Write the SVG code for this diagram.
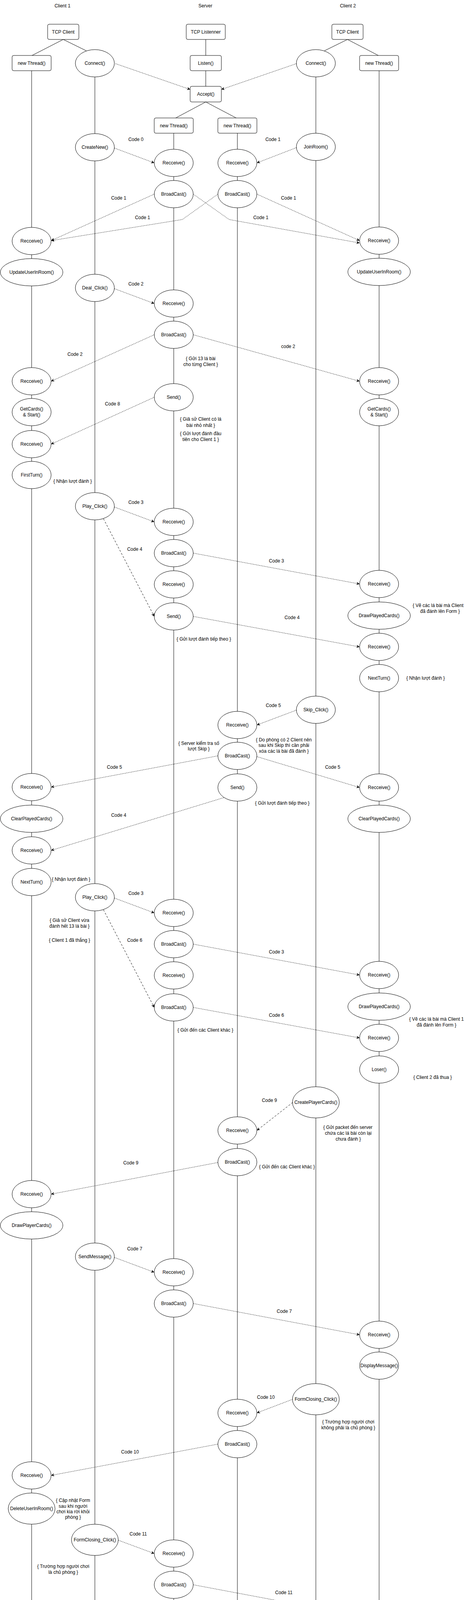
<svg xmlns="http://www.w3.org/2000/svg" width="1191" height="4373" viewBox="0 0 1191 4373">
<defs>
<style>
.n{fill:#fff;stroke:#000;stroke-width:1}
.t{font-family:"Liberation Sans",Arial,"Noto Sans",sans-serif;font-size:12px;text-anchor:middle;fill:#000}
.l{fill:none;stroke:#000;stroke-width:1}
.d{fill:none;stroke:#000;stroke-width:1;stroke-dasharray:2 2;marker-end:url(#ah)}
.dl{fill:none;stroke:#000;stroke-width:1;stroke-dasharray:5 4;marker-end:url(#ah)}
</style>
<marker id="ah" markerWidth="8" markerHeight="8" refX="8" refY="4" orient="auto" markerUnits="userSpaceOnUse">
<path d="M0,0 L8,4 L0,8 L2.5,4 Z" fill="#000"/>
</marker>
</defs>
<rect width="1191" height="4373" fill="#fff"/>

<g id="headers">
<text class="t" x="160" y="19">Client 1</text>
<text class="t" x="526" y="19">Server</text>
<text class="t" x="891" y="19">Client 2</text>
</g>

<g id="lifelines">
<line class="l" x1="81" y1="181" x2="81" y2="4302"/>
<line class="l" x1="243" y1="197" x2="243" y2="4302"/>
<line class="l" x1="445" y1="341" x2="445" y2="4302"/>
<line class="l" x1="608" y1="341" x2="608" y2="4302"/>
<line class="l" x1="809" y1="197" x2="809" y2="4302"/>
<line class="l" x1="971" y1="181" x2="971" y2="4302"/>
<line class="l" x1="527" y1="101" x2="527" y2="142"/>
<line class="l" x1="527" y1="181" x2="527" y2="221"/>
<line class="l" x1="162" y1="101" x2="82" y2="142"/>
<line class="l" x1="162" y1="101" x2="221" y2="130"/>
<line class="l" x1="890" y1="101" x2="831" y2="130"/>
<line class="l" x1="890" y1="101" x2="969" y2="142"/>
<line class="l" x1="527" y1="261" x2="450" y2="302"/>
<line class="l" x1="527" y1="261" x2="605" y2="302"/>
</g>

<g id="client1-nodes">
<g id="c1-tcp"><rect class="n" x="122" y="62" width="80" height="39" rx="4"/><text class="t" x="162" y="85.5">TCP Client</text></g>
<g id="c1-thread"><rect class="n" x="31" y="142" width="100" height="39" rx="4"/><text class="t" x="81" y="165.5">new Thread()</text></g>
<g id="c1-connect"><ellipse class="n" cx="243" cy="162" rx="50" ry="35"/><text class="t" x="243" y="166">Connect()</text></g>
<g id="c1-createnew"><ellipse class="n" cx="243" cy="377" rx="50" ry="35"/><text class="t" x="243" y="381">CreateNew()</text></g>
<g id="c1-deal"><ellipse class="n" cx="243" cy="737" rx="50" ry="35"/><text class="t" x="243" y="741">Deal_Click()</text></g>
<g id="c1-play1"><ellipse class="n" cx="243" cy="1296" rx="50" ry="35"/><text class="t" x="243" y="1300">Play_Click()</text></g>
<g id="c1-play2"><ellipse class="n" cx="243" cy="2297" rx="50" ry="35"/><text class="t" x="243" y="2301">Play_Click()</text></g>
<g id="c1-sendmsg"><ellipse class="n" cx="243" cy="3217" rx="50" ry="35"/><text class="t" x="243" y="3221">SendMessage()</text></g>
<g id="c1-formclosing"><ellipse class="n" cx="243" cy="3942" rx="60" ry="40"/><text class="t" x="243" y="3946">FormClosing_Click()</text></g>
<g id="c1-close"><ellipse class="n" cx="243" cy="4337" rx="50" ry="35"/><text class="t" x="243" y="4341">Close()</text></g>
<g id="c1-recv1"><ellipse class="n" cx="81" cy="617" rx="50" ry="35"/><text class="t" x="81" y="621">Recceive()</text></g>
<g id="c1-update"><ellipse class="n" cx="81" cy="697" rx="80" ry="35"/><text class="t" x="81" y="701">UpdateUserInRoom()</text></g>
<g id="c1-recv2"><ellipse class="n" cx="81" cy="976" rx="50" ry="35"/><text class="t" x="81" y="980">Recceive()</text></g>
<g id="c1-getcards"><ellipse class="n" cx="81" cy="1055" rx="50" ry="35"/><text class="t" x="81" y="1051">GetCards()</text><text class="t" x="81" y="1066">&amp; Start()</text></g>
<g id="c1-recv3"><ellipse class="n" cx="81" cy="1137" rx="50" ry="35"/><text class="t" x="81" y="1141">Recceive()</text></g>
<g id="c1-firstturn"><ellipse class="n" cx="81" cy="1216" rx="50" ry="35"/><text class="t" x="81" y="1220">FirstTurn()</text></g>
<g id="c1-recv4"><ellipse class="n" cx="81" cy="2015" rx="50" ry="35"/><text class="t" x="81" y="2019">Recceive()</text></g>
<g id="c1-clear"><ellipse class="n" cx="81" cy="2096" rx="80" ry="35"/><text class="t" x="81" y="2100">ClearPlayedCards()</text></g>
<g id="c1-recv5"><ellipse class="n" cx="81" cy="2177" rx="50" ry="35"/><text class="t" x="81" y="2181">Recceive()</text></g>
<g id="c1-nextturn"><ellipse class="n" cx="81" cy="2258" rx="50" ry="35"/><text class="t" x="81" y="2262">NextTurn()</text></g>
<g id="c1-recv6"><ellipse class="n" cx="81" cy="3057" rx="50" ry="35"/><text class="t" x="81" y="3061">Recceive()</text></g>
<g id="c1-drawplayer"><ellipse class="n" cx="81" cy="3137" rx="80" ry="35"/><text class="t" x="81" y="3141">DrawPlayerCards()</text></g>
<g id="c1-recv7"><ellipse class="n" cx="81" cy="3777" rx="50" ry="35"/><text class="t" x="81" y="3781">Recceive()</text></g>
<g id="c1-deleteuser"><ellipse class="n" cx="81" cy="3862" rx="60" ry="40"/><text class="t" x="81" y="3866">DeleteUserInRoom()</text></g>
<g id="c1-endthread"><ellipse class="n" cx="81" cy="4337" rx="50" ry="35"/><text class="t" x="81" y="4341">End Thread()</text></g>
</g>

<g id="server-nodes">
<g id="s-tcp"><rect class="n" x="477" y="62" width="100" height="39" rx="4"/><text class="t" x="527" y="85.5">TCP Listenner</text></g>
<g id="s-listen"><rect class="n" x="487" y="142" width="80" height="39" rx="4"/><text class="t" x="527" y="165.5">Listen()</text></g>
<g id="s-accept"><rect class="n" x="487" y="221" width="80" height="40" rx="4"/><text class="t" x="527" y="245">Accept()</text></g>
<g id="s-thread1"><rect class="n" x="395" y="302" width="100" height="39" rx="4"/><text class="t" x="445" y="325.5">new Thread()</text></g>
<g id="s-thread2"><rect class="n" x="558" y="302" width="100" height="39" rx="4"/><text class="t" x="608" y="325.5">new Thread()</text></g>
<g id="s1-recv1"><ellipse class="n" cx="445" cy="417" rx="50" ry="35"/><text class="t" x="445" y="421">Recceive()</text></g>
<g id="s1-bc1"><ellipse class="n" cx="445" cy="497" rx="50" ry="35"/><text class="t" x="445" y="501">BroadCast()</text></g>
<g id="s1-recv2"><ellipse class="n" cx="445" cy="777" rx="50" ry="35"/><text class="t" x="445" y="781">Recceive()</text></g>
<g id="s1-bc2"><ellipse class="n" cx="445" cy="857" rx="50" ry="35"/><text class="t" x="445" y="861">BroadCast()</text></g>
<g id="s1-send1"><ellipse class="n" cx="445" cy="1017" rx="50" ry="35"/><text class="t" x="445" y="1021">Send()</text></g>
<g id="s1-recv3"><ellipse class="n" cx="445" cy="1336" rx="50" ry="35"/><text class="t" x="445" y="1340">Recceive()</text></g>
<g id="s1-bc3"><ellipse class="n" cx="445" cy="1416" rx="50" ry="35"/><text class="t" x="445" y="1420">BroadCast()</text></g>
<g id="s1-recv4"><ellipse class="n" cx="445" cy="1496" rx="50" ry="35"/><text class="t" x="445" y="1500">Recceive()</text></g>
<g id="s1-send2"><ellipse class="n" cx="445" cy="1578" rx="50" ry="35"/><text class="t" x="445" y="1582">Send()</text></g>
<g id="s1-recv5"><ellipse class="n" cx="445" cy="2337" rx="50" ry="35"/><text class="t" x="445" y="2341">Recceive()</text></g>
<g id="s1-bc4"><ellipse class="n" cx="445" cy="2417" rx="50" ry="35"/><text class="t" x="445" y="2421">BroadCast()</text></g>
<g id="s1-recv6"><ellipse class="n" cx="445" cy="2497" rx="50" ry="35"/><text class="t" x="445" y="2501">Recceive()</text></g>
<g id="s1-bc5"><ellipse class="n" cx="445" cy="2579" rx="50" ry="35"/><text class="t" x="445" y="2583">BroadCast()</text></g>
<g id="s1-recv7"><ellipse class="n" cx="445" cy="3257" rx="50" ry="35"/><text class="t" x="445" y="3261">Recceive()</text></g>
<g id="s1-bc6"><ellipse class="n" cx="445" cy="3337" rx="50" ry="35"/><text class="t" x="445" y="3341">BroadCast()</text></g>
<g id="s1-recv8"><ellipse class="n" cx="445" cy="3977" rx="50" ry="35"/><text class="t" x="445" y="3981">Recceive()</text></g>
<g id="s1-bc7"><ellipse class="n" cx="445" cy="4057" rx="50" ry="35"/><text class="t" x="445" y="4061">BroadCast()</text></g>
<g id="s1-end"><ellipse class="n" cx="445" cy="4337" rx="50" ry="35"/><text class="t" x="445" y="4341">End Thread()</text></g>
<g id="s2-recv1"><ellipse class="n" cx="608" cy="417" rx="50" ry="35"/><text class="t" x="608" y="421">Recceive()</text></g>
<g id="s2-bc1"><ellipse class="n" cx="608" cy="497" rx="50" ry="35"/><text class="t" x="608" y="501">BroadCast()</text></g>
<g id="s2-recv2"><ellipse class="n" cx="608" cy="1856" rx="50" ry="35"/><text class="t" x="608" y="1860">Recceive()</text></g>
<g id="s2-bc2"><ellipse class="n" cx="608" cy="1935" rx="50" ry="35"/><text class="t" x="608" y="1939">BroadCast()</text></g>
<g id="s2-send"><ellipse class="n" cx="608" cy="2016" rx="50" ry="35"/><text class="t" x="608" y="2020">Send()</text></g>
<g id="s2-recv3"><ellipse class="n" cx="608" cy="2894" rx="50" ry="35"/><text class="t" x="608" y="2898">Recceive()</text></g>
<g id="s2-bc3"><ellipse class="n" cx="608" cy="2975" rx="50" ry="35"/><text class="t" x="608" y="2979">BroadCast()</text></g>
<g id="s2-recv4"><ellipse class="n" cx="608" cy="3617" rx="50" ry="35"/><text class="t" x="608" y="3621">Recceive()</text></g>
<g id="s2-bc4"><ellipse class="n" cx="608" cy="3697" rx="50" ry="35"/><text class="t" x="608" y="3701">BroadCast()</text></g>
<g id="s2-end"><ellipse class="n" cx="608" cy="4337" rx="50" ry="35"/><text class="t" x="608" y="4341">End Thread()</text></g>
</g>

<g id="client2-nodes">
<g id="c2-tcp"><rect class="n" x="850" y="62" width="80" height="39" rx="4"/><text class="t" x="890" y="85.5">TCP Client</text></g>
<g id="c2-thread"><rect class="n" x="921" y="142" width="100" height="39" rx="4"/><text class="t" x="971" y="165.5">new Thread()</text></g>
<g id="c2-connect"><ellipse class="n" cx="809" cy="162" rx="50" ry="35"/><text class="t" x="809" y="166">Connect()</text></g>
<g id="c2-joinroom"><ellipse class="n" cx="809" cy="376" rx="50" ry="35"/><text class="t" x="809" y="380">JoinRoom()</text></g>
<g id="c2-skip"><ellipse class="n" cx="809" cy="1817" rx="50" ry="35"/><text class="t" x="809" y="1821">Skip_Click()</text></g>
<g id="c2-createplayer"><ellipse class="n" cx="809" cy="2822" rx="60" ry="40"/><text class="t" x="809" y="2826">CreatePlayerCards()</text></g>
<g id="c2-formclosing"><ellipse class="n" cx="809" cy="3582" rx="60" ry="40"/><text class="t" x="809" y="3586">FormClosing_Click()</text></g>
<g id="c2-close"><ellipse class="n" cx="809" cy="4337" rx="50" ry="35"/><text class="t" x="809" y="4341">Close()</text></g>
<g id="c2-recv1"><ellipse class="n" cx="971" cy="616" rx="50" ry="35"/><text class="t" x="971" y="620">Recceive()</text></g>
<g id="c2-update"><ellipse class="n" cx="971" cy="696" rx="80" ry="35"/><text class="t" x="971" y="700">UpdateUserInRoom()</text></g>
<g id="c2-recv2"><ellipse class="n" cx="971" cy="976" rx="50" ry="35"/><text class="t" x="971" y="980">Recceive()</text></g>
<g id="c2-getcards"><ellipse class="n" cx="971" cy="1055" rx="50" ry="35"/><text class="t" x="971" y="1051">GetCards()</text><text class="t" x="971" y="1066">&amp; Start()</text></g>
<g id="c2-recv3"><ellipse class="n" cx="971" cy="1495" rx="50" ry="35"/><text class="t" x="971" y="1499">Recceive()</text></g>
<g id="c2-drawplayed1"><ellipse class="n" cx="971" cy="1576" rx="80" ry="35"/><text class="t" x="971" y="1580">DrawPlayedCards()</text></g>
<g id="c2-recv4"><ellipse class="n" cx="971" cy="1656" rx="50" ry="35"/><text class="t" x="971" y="1660">Recceive()</text></g>
<g id="c2-nextturn"><ellipse class="n" cx="971" cy="1736" rx="50" ry="35"/><text class="t" x="971" y="1740">NextTurn()</text></g>
<g id="c2-recv5"><ellipse class="n" cx="971" cy="2016" rx="50" ry="35"/><text class="t" x="971" y="2020">Recceive()</text></g>
<g id="c2-clear"><ellipse class="n" cx="971" cy="2096" rx="80" ry="35"/><text class="t" x="971" y="2100">ClearPlayedCards()</text></g>
<g id="c2-recv6"><ellipse class="n" cx="971" cy="2496" rx="50" ry="35"/><text class="t" x="971" y="2500">Recceive()</text></g>
<g id="c2-drawplayed2"><ellipse class="n" cx="971" cy="2577" rx="80" ry="35"/><text class="t" x="971" y="2581">DrawPlayedCards()</text></g>
<g id="c2-recv7"><ellipse class="n" cx="971" cy="2657" rx="50" ry="35"/><text class="t" x="971" y="2661">Recceive()</text></g>
<g id="c2-loser"><ellipse class="n" cx="971" cy="2738" rx="50" ry="35"/><text class="t" x="971" y="2742">Loser()</text></g>
<g id="c2-recv8"><ellipse class="n" cx="971" cy="3417" rx="50" ry="35"/><text class="t" x="971" y="3421">Recceive()</text></g>
<g id="c2-display"><ellipse class="n" cx="971" cy="3496" rx="50" ry="35"/><text class="t" x="971" y="3500">DisplayMessage()</text></g>
<g id="c2-recv9"><ellipse class="n" cx="971" cy="4137" rx="50" ry="35"/><text class="t" x="971" y="4141">Recceive()</text></g>
<g id="c2-deleteroom"><ellipse class="n" cx="971" cy="4222" rx="60" ry="40"/><text class="t" x="971" y="4226">DeleteRoom()</text></g>
<g id="c2-end"><ellipse class="n" cx="971" cy="4337" rx="50" ry="35"/><text class="t" x="971" y="4341">End Thread()</text></g>
</g>

<g id="connectors">
<path class="d" d="M296,163 L487,229"/>
<path class="d" d="M759,163 L567,229"/>
<path class="d" d="M293,379 L395,417"/>
<path class="d" d="M759,378 L658,417"/>
<path class="d" d="M395,497 L131,616"/>
<path class="d" d="M558,497 L467,562 L131,616"/>
<path class="d" d="M495,497 L587,562 L921,622"/>
<path class="d" d="M658,497 L921,616"/>
<path class="d" d="M293,739 L395,777"/>
<path class="d" d="M395,857 L131,976"/>
<path class="d" d="M495,857 L921,976"/>
<path class="d" d="M395,1017 L131,1137"/>
<path class="d" d="M293,1298 L395,1336"/>
<path class="dl" d="M265,1328 L395,1578"/>
<path class="d" d="M495,1416 L921,1495"/>
<path class="d" d="M495,1578 L921,1656"/>
<path class="d" d="M759,1818 L658,1856"/>
<path class="d" d="M558,1935 L131,2015"/>
<path class="d" d="M658,1937 L921,2016"/>
<path class="d" d="M573,2042 L131,2177"/>
<path class="d" d="M293,2299 L395,2337"/>
<path class="dl" d="M265,2329 L395,2579"/>
<path class="d" d="M495,2417 L921,2496"/>
<path class="d" d="M495,2579 L921,2657"/>
<path class="dl" d="M750,2822 L658,2894"/>
<path class="d" d="M558,2976 L131,3057"/>
<path class="d" d="M293,3219 L395,3257"/>
<path class="d" d="M495,3337 L921,3417"/>
<path class="d" d="M750,3582 L658,3617"/>
<path class="d" d="M558,3697 L131,3777"/>
<path class="d" d="M303,3943 L395,3977"/>
<path class="d" d="M495,4057 L921,4137"/>
</g>

<g id="connector-labels">
<text class="t" x="348" y="361">Code 0</text>
<text class="t" x="699" y="361">Code 1</text>
<text class="t" x="304" y="511">Code 1</text>
<text class="t" x="365" y="561">Code 1</text>
<text class="t" x="668" y="561">Code 1</text>
<text class="t" x="739" y="511">Code 1</text>
<text class="t" x="348" y="731">Code 2</text>
<text class="t" x="192" y="911">Code 2</text>
<text class="t" x="738" y="891">code 2</text>
<text class="t" x="288" y="1038">Code 8</text>
<text class="t" x="348" y="1290">Code 3</text>
<text class="t" x="345" y="1410">Code 4</text>
<text class="t" x="708" y="1440">Code 3</text>
<text class="t" x="748" y="1585">Code 4</text>
<text class="t" x="700" y="1810">Code 5</text>
<text class="t" x="293" y="1968">Code 5</text>
<text class="t" x="852" y="1968">Code 5</text>
<text class="t" x="304" y="2091">Code 4</text>
<text class="t" x="348" y="2291">Code 3</text>
<text class="t" x="345" y="2411">Code 6</text>
<text class="t" x="708" y="2441">Code 3</text>
<text class="t" x="708" y="2603">Code 6</text>
<text class="t" x="690" y="2821">Code 9</text>
<text class="t" x="335" y="2981">Code 9</text>
<text class="t" x="345" y="3201">Code 7</text>
<text class="t" x="728" y="3361">Code 7</text>
<text class="t" x="681" y="3581">Code 10</text>
<text class="t" x="333" y="3721">Code 10</text>
<text class="t" x="354" y="3931">Code 11</text>
<text class="t" x="727" y="4081">Code 11</text>
</g>

<g id="notes">
<text class="t" x="514" y="922">{ Gửi 13 lá bài</text>
<text class="t" x="514" y="937">cho từng Client }</text>
<text class="t" x="514" y="1077">{ Giả sử Client có lá</text>
<text class="t" x="514" y="1093">bài nhỏ nhất }</text>
<text class="t" x="514" y="1114">{ Gửi lượt đánh đầu</text>
<text class="t" x="514" y="1129">tiên cho Client 1 }</text>
<text class="t" x="186" y="1236">{ Nhận lượt đánh }</text>
<text class="t" x="1127" y="1554">{ Vẽ các lá bài mà Client 1</text>
<text class="t" x="1127" y="1569">đã đánh lên Form }</text>
<text class="t" x="522" y="1640">{ Gửi lượt đánh tiếp theo }</text>
<text class="t" x="1090" y="1740">{ Nhận lượt đánh }</text>
<text class="t" x="509" y="1907">{ Server kiểm tra số</text>
<text class="t" x="509" y="1921">lượt Skip }</text>
<text class="t" x="727" y="1898">{ Do phòng có 2 Client nên</text>
<text class="t" x="727" y="1912">sau khi Skip thì cần phải</text>
<text class="t" x="727" y="1927">xóa các lá bài đã đánh }</text>
<text class="t" x="723" y="2060">{ Gửi lượt đánh tiếp theo }</text>
<text class="t" x="182" y="2255">{ Nhận lượt đánh }</text>
<text class="t" x="178" y="2360">{ Giả sử Client vừa</text>
<text class="t" x="178" y="2375">đánh hết 13 lá bài }</text>
<text class="t" x="178" y="2411">{ Client 1 đã thắng }</text>
<text class="t" x="1118" y="2613">{ Vẽ các lá bài mà Client 1</text>
<text class="t" x="1118" y="2628">đã đánh lên Form }</text>
<text class="t" x="526" y="2641">{ Gửi đến các Client khác }</text>
<text class="t" x="1108" y="2762">{ Client 2 đã thua }</text>
<text class="t" x="891" y="2890">{ Gửi packet đến server</text>
<text class="t" x="892" y="2905">chứa các lá bài còn lại</text>
<text class="t" x="892" y="2920">chưa đánh }</text>
<text class="t" x="735" y="2991">{ Gửi đến các Client khác }</text>
<text class="t" x="892" y="3644">{ Trường hợp người chơi</text>
<text class="t" x="892" y="3659">không phải là chủ phòng }</text>
<text class="t" x="187" y="3845">{ Cập nhật Form</text>
<text class="t" x="187" y="3860">sau khi người</text>
<text class="t" x="187" y="3874">chơi kia rời khỏi</text>
<text class="t" x="187" y="3888">phòng }</text>
<text class="t" x="162" y="4014">{ Trường hợp người chơi</text>
<text class="t" x="162" y="4029">là chủ phòng }</text>
<text class="t" x="1122" y="4155">{ Giả sử Client 1 và Client2</text>
<text class="t" x="1122" y="4170">vẫn đang trong phòng }</text>
<text class="t" x="1119" y="4223">{ Vì Client1 là chủ phòng</text>
<text class="t" x="1119" y="4238">nên sau khi Client 1 thoát</text>
<text class="t" x="1119" y="4252">phòng thì phòng sẽ bị hủy</text>
<text class="t" x="1119" y="4267">và các người chơi khác sẽ</text>
<text class="t" x="1119" y="4281">bị đẩy ra khỏi phòng }</text>
</g>
</svg>
